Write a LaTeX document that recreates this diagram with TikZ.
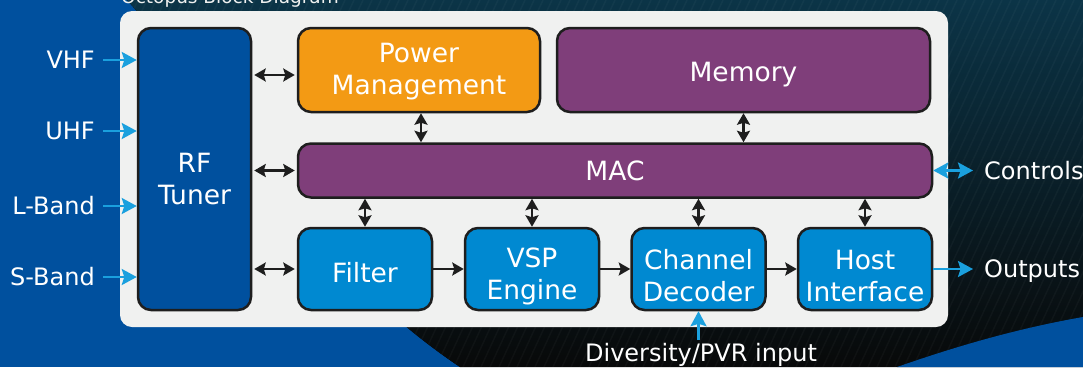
\documentclass[tikz,border=0pt]{standalone}
\usepackage{fontspec}
\setmainfont{DejaVu Sans}
\usepackage{xcolor}
\usepackage{tikz}
\usetikzlibrary{positioning,calc,arrows.meta}

\definecolor{bgblue}{HTML}{00509E}
\definecolor{darktop}{HTML}{0B3447}
\definecolor{darkmid}{HTML}{07202B}
\definecolor{darkbot}{HTML}{080909}
\definecolor{panelgray}{HTML}{F0F1F0}
\definecolor{pmorange}{HTML}{F39A14}
\definecolor{macpurple}{HTML}{7F3E7A}
\definecolor{blockblue}{HTML}{0089D1}
\definecolor{sigcyan}{HTML}{1AA0DE}
\definecolor{edgeblack}{HTML}{1E1E1E}

\tikzset{
  block/.style={draw=edgeblack, line width=2.5pt, rounded corners=13pt, inner sep=0pt},
  boxtext/.style={text=white, align=center, inner sep=0pt, font=\fontsize{26.5}{32}\selectfont},
  extlabel/.style={text=white, inner sep=0pt, text height=17.5pt, text depth=0pt,
    font=\fontsize{24}{28}\selectfont},
  bustip/.tip={Stealth[length=11.5pt,width=13pt,inset=2pt]},
  bigtip/.tip={Stealth[length=15pt,width=16pt,inset=2.5pt]},
  busarrow/.style={edgeblack, line width=2.5pt, bustip-bustip},
  flowarrow/.style={edgeblack, line width=2.5pt, -bustip},
  sigarrow/.style={sigcyan, line width=2.5pt, -bigtip}
}

\begin{document}
\begin{tikzpicture}[x=1pt, y=-1pt]
    \useasboundingbox (0,0) rectangle (1083,367);

    % Backdrop
    \fill [bgblue] (0,0) rectangle (1083,367);
    \begin{scope}
        \clip (127,0) .. controls (200,80) and (300,260) .. (460,367) -- (1083,367) -- (1083,0) -- cycle;
        \fill [top color=darktop, middle color=darkmid, bottom color=darkbot] (100,0) rectangle (1083,367);
        \foreach \k in {0,...,130}
            \draw [white, opacity=0.03, line width=1.5pt] (-50+9*\k,367) -- (120+9*\k,0);
    \end{scope}
    \fill [bgblue] (897,367) .. controls (960,345) and (1020,328) .. (1083,317) -- (1083,367) -- cycle;

    % Title
    \node [anchor=base west, inner sep=0pt, text=panelgray, font=\fontsize{18.5}{22}\selectfont]
        (title) at (121,3) {Octopus Block Diagram};

    % Panel
    \fill [panelgray, rounded corners=12pt] (120,11) rectangle (948,327);

    % Blocks
    \node [block, fill=bgblue, minimum width=113pt, minimum height=282pt,
        label={[boxtext, yshift=-10pt]center:RF\\Tuner}] (tuner) at (194.5,169) {};
    \node [block, fill=pmorange, minimum width=242pt, minimum height=84pt,
        label={[boxtext, yshift=-2pt]center:Power\\Management}] (power) at (419,70) {};
    \node [block, fill=macpurple, minimum width=373pt, minimum height=84pt,
        label={[boxtext, yshift=-5pt]center:Memory}] (memory) at (743.5,70) {};
    \node [block, fill=macpurple, minimum width=634pt, minimum height=54pt,
        label={[boxtext]center:MAC}] (mac) at (615,170.5) {};
    \node [block, fill=blockblue, minimum width=134pt, minimum height=82pt,
        label={[boxtext, yshift=-4pt]center:Filter}] (filter) at (365,269) {};
    \node [block, fill=blockblue, minimum width=134pt, minimum height=82pt,
        label={[boxtext, yshift=-7pt]center:VSP\\Engine}] (vsp) at (532,269) {};
    \node [block, fill=blockblue, minimum width=134pt, minimum height=82pt,
        label={[boxtext, yshift=-7pt]center:Channel\\Decoder}] (chdec) at (698.5,269) {};
    \node [block, fill=blockblue, minimum width=134pt, minimum height=82pt,
        label={[boxtext, yshift=-7pt]center:Host\\Interface}] (host) at (865,269) {};

    % Inputs
    \node [extlabel, anchor=east] (vhf) at (95,60) {VHF};
    \node [extlabel, anchor=east] (uhf) at (95,131) {UHF};
    \node [extlabel, anchor=east] (lband) at (95,206) {L-Band};
    \node [extlabel, anchor=east] (sband) at (95,277) {S-Band};
    \draw [sigarrow] ([xshift=8pt]vhf.east) -- (vhf.east -| tuner.west);
    \draw [sigarrow] ([xshift=8pt]uhf.east) -- (uhf.east -| tuner.west);
    \draw [sigarrow] ([xshift=8pt]lband.east) -- (lband.east -| tuner.west);
    \draw [sigarrow] ([xshift=8pt]sband.east) -- (sband.east -| tuner.west);

    % Tuner links
    \draw [busarrow, shorten <=2pt, shorten >=2pt] ([yshift=-5pt]power.west -| tuner.east) -- ([yshift=-5pt]power.west);
    \draw [busarrow, shorten <=2pt, shorten >=2pt] (mac.west -| tuner.east) -- (mac.west);
    \draw [busarrow, shorten <=2pt, shorten >=2pt] (filter.west -| tuner.east) -- (filter.west);

    % MAC links
    \draw [busarrow] ([xshift=2pt]power.south) -- ([xshift=2pt]power.south |- mac.north);
    \draw [busarrow] (memory.south) -- (memory.south |- mac.north);
    \draw [busarrow] (filter.north |- mac.south) -- (filter.north);
    \draw [busarrow] (vsp.north |- mac.south) -- (vsp.north);
    \draw [busarrow] (chdec.north |- mac.south) -- (chdec.north);
    \draw [busarrow] (host.north |- mac.south) -- (host.north);

    % Data path
    \draw [flowarrow] (filter) -- (vsp);
    \draw [flowarrow] (vsp) -- (chdec);
    \draw [flowarrow] (chdec) -- (host);

    % Outputs
    \node [extlabel, anchor=west] (controls) at (984,170.5) {Controls};
    \node [extlabel, anchor=west] (outputs) at (984,269) {Outputs};
    \node [extlabel] (pvr) at (701,353) {Diversity/PVR input};
    \draw [sigarrow, bigtip-bigtip] (mac.east) -- ([xshift=-11pt]controls.west);
    \draw [sigarrow] (host.east) -- ([xshift=-11pt]outputs.west);
    \draw [sigarrow] ([yshift=4pt]chdec.south |- pvr.north) -- (chdec.south);
\end{tikzpicture}
\end{document}
